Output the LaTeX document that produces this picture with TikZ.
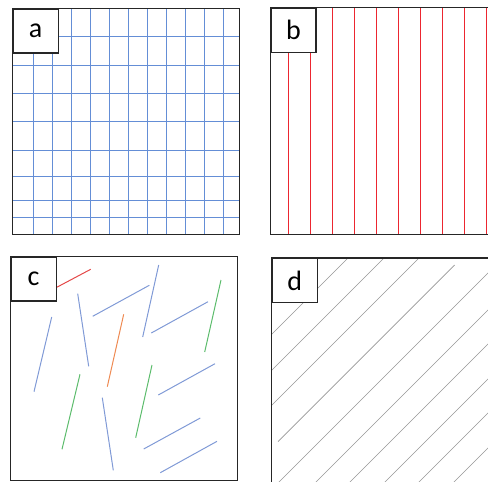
\documentclass[tikz,border=0pt]{standalone}
\usepackage{fontspec}
\setmainfont{Carlito}
\usetikzlibrary{positioning}

\definecolor{gridblue}{RGB}{100,142,214}
\definecolor{stripred}{RGB}{236,38,48}
\definecolor{fibblue}{RGB}{128,154,214}
\definecolor{fibgreen}{RGB}{92,188,108}
\definecolor{fiborange}{RGB}{238,138,82}
\definecolor{fibred}{RGB}{228,72,72}
\definecolor{hatchgray}{RGB}{150,150,150}

\begin{document}
\begin{tikzpicture}[x=1pt, y=-1pt,
  panel/.style={draw=black!85, line width=1.4pt},
  tag/.style={draw=black!85, line width=1.2pt, fill=white, anchor=north west,
    inner sep=0pt, minimum width=45pt, minimum height=44pt,
    font=\fontsize{28}{30}\selectfont},
  gridline/.style={gridblue, line width=1pt},
  stripe/.style={stripred, line width=1.3pt},
  fibre/.style={line width=1pt},
  hatch/.style={hatchgray, line width=0.65pt}]

  \useasboundingbox (0,0) rectangle (488,482);
  \clip (0,0) rectangle (488,482);

  % a: square grid
  \foreach \i in {0,...,10}
    \draw[gridline] ({33.7+18.96*\i},8.3) -- ({33.7+18.96*\i},234.5);
  \foreach \y in {36.7,65,93.3,121.7,150,176.7,200,217.3}
    \draw[gridline] (12.5,\y) -- (239.5,\y);
  \draw[panel] (12.5,8.3) rectangle (239.5,234.5);
  \node[tag] (ta) at (12.5,8.3) {a};

  % b: parallel stripes
  \foreach \i in {0,...,9}
    \draw[stripe] ({288.3+22.04*\i},7.5) -- ({288.3+22.04*\i},234.3);
  \draw[panel] (270.3,7.5) rectangle (500,234.3);
  \node[tag] (tb) at (270.3,7.5) {b};

  % c: random fibres
  \foreach \col/\xa/\ya/\xb/\yb in {
      fibred/56/287.7/90.7/269.3,
      fibblue/51.7/317/34/391.7,
      fibblue/77.7/293.7/88.7/366.3,
      fibblue/92.7/316.3/149.3/285.3,
      fibblue/158.7/265/142.7/337,
      fiborange/123.7/314.3/107.3/386.7,
      fibblue/151.3/333/208/301.7,
      fibgreen/221/280/204.7/352,
      fibgreen/80/374.3/62/449.3,
      fibblue/102.3/397.7/113.3/470.3,
      fibgreen/152/365/135.7/437.7,
      fibblue/158.3/395/215/363.7,
      fibblue/143.7/449/200.3/418,
      fibblue/160.3/472.7/217/441.3}
    \draw[fibre, \col] (\xa,\ya) -- (\xb,\yb);
  \draw[panel] (10.5,256.3) rectangle (237.5,480.5);
  \node[tag] (tc) at (10.5,256.3) {c};

  % d: diagonal hatching
  \begin{scope}
    \clip (271.7,258) rectangle (500,500);
    \foreach \c in {606,642,677,761,798,832,867,901,936,971}
      \draw[hatch] ({\c-500},500) -- (500,{\c-500});
    \draw[hatch] (278,441.7) -- (454.7,265);
  \end{scope}
  \draw[panel] (271.7,258) rectangle (500,500);
  \node[tag] (td) at (271.7,258) {d};
\end{tikzpicture}
\end{document}
